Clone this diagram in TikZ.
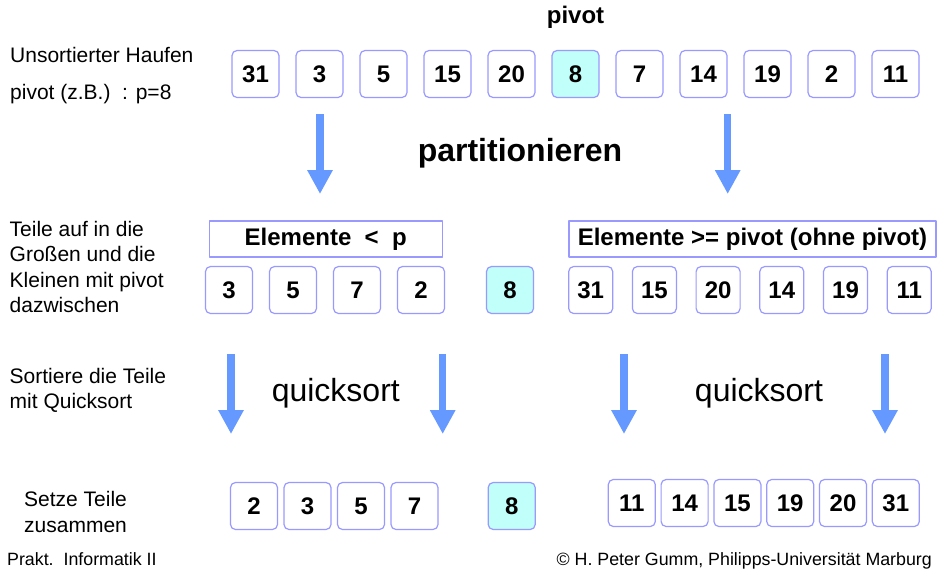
\documentclass[tikz,border=0pt]{standalone}
\usepackage{fontspec}
\setmainfont{Liberation Sans}
\usetikzlibrary{arrows.meta}
\definecolor{boxblue}{RGB}{153,153,255}
\definecolor{pivotcyan}{RGB}{192,255,250}
\definecolor{arrowblue}{RGB}{102,153,255}
\tikzset{
	zahl/.style={draw=boxblue, fill=white, line width=1.2pt, rounded corners=5pt, minimum width=47pt, minimum height=47pt, inner sep=0pt, font=\fontsize{24}{28}\selectfont\bfseries},
	teil/.style={draw=boxblue, line width=1.2pt, minimum height=36pt, inner sep=0pt, font=\fontsize{24}{28}\selectfont\bfseries},
	blockpfeil/.style={arrowblue, line width=7.5pt, -{Triangle[width=24pt,length=24pt]}},
	erkl/.style={inner sep=0pt, align=left, font=\fontsize{21}{25.5}\selectfont},
	fuss/.style={inner sep=0pt, font=\fontsize{17.8}{20}\selectfont}
}
\begin{document}
\begin{tikzpicture}[x=1pt,y=-1pt, line join=round]
	\def\ytop{74} \def\ymid{290} \def\yteil{239}
	\def\pa{114} \def\pb{194} \def\qa{354} \def\qb{434}
	\useasboundingbox (0,0) rectangle (939,571);
	% unsortierter Haufen
	\node[erkl, anchor=base west] (lab1) at (10,62.7) {Unsortierter Haufen};
	\node[erkl, anchor=base west] (lab2) at (10,99) {pivot (z.B.)\ \ : p=8};
	\node[font=\fontsize{24}{28}\selectfont\bfseries] (pivtxt) at (575.5,17) {pivot};
	\foreach \v/\f [count=\i] in {31/white,3/white,5/white,15/white,20/white,8/pivotcyan,7/white,14/white,19/white,2/white,11/white}
		\node[zahl, fill=\f] (t\i) at ({191.5+64*\i},\ytop) {\v};
	% partitionieren
	\coordinate (p1a) at (320,\pa); \coordinate (p1b) at (320,\pb);
	\coordinate (p2a) at (727.7,\pa); \coordinate (p2b) at (727.7,\pb);
	\draw[blockpfeil] (p1a)--(p1b);
	\draw[blockpfeil] (p2a)--(p2b);
	\node[font=\fontsize{32}{36}\selectfont\bfseries] (part) at (520,153) {partitionieren};
	% Teile
	\node[erkl, anchor=north west] (lab3) at (9.5,220.7) {Teile auf in die\\Großen und die\\Kleinen mit pivot\\dazwischen};
	\node[teil, minimum width=233pt] (kleine) at (325.7,\yteil) {Elemente\ \ <\ \ p};
	\node[teil, minimum width=367pt] (grosse) at (752.5,\yteil) {Elemente >= pivot (ohne pivot)};
	\foreach \v [count=\i] in {3,5,7,2}
		\node[zahl] (ml\i) at ({165+64*\i},\ymid) {\v};
	\node[zahl, fill=pivotcyan] (mp) at (510,\ymid) {8};
	\foreach \v [count=\i] in {31,15,20,14,19,11}
		\node[zahl, minimum width=44pt] (mr\i) at ({527+63.7*\i},\ymid) {\v};
	% quicksort
	\node[erkl, anchor=north west] (lab4) at (9.5,368) {Sortiere die Teile\\mit Quicksort};
	\foreach \x [count=\i] in {231,442.7,624,885} {
		\coordinate (q\i a) at (\x,\qa); \coordinate (q\i b) at (\x,\qb);
		\draw[blockpfeil] (q\i a)--(q\i b);
	}
	\node[font=\fontsize{32}{36}\selectfont] (qs1) at (335.8,393.5) {quicksort};
	\node[font=\fontsize{32}{36}\selectfont] (qs2) at (759,393.5) {quicksort};
	% zusammensetzen
	\node[erkl, anchor=north west] (lab5) at (24,491.4) {Setze Teile\\zusammen};
	\foreach \v [count=\i] in {2,3,5,7}
		\node[zahl] (bl\i) at ({200.5+53.5*\i},506) {\v};
	\node[zahl, fill=pivotcyan] (bp) at (511.7,506) {8};
	\foreach \v [count=\i] in {11,14,15,19,20,31}
		\node[zahl] (br\i) at ({579+52.8*\i},503) {\v};
	% Fusszeile
	\node[fuss, anchor=base west] (f1) at (7,565.5) {Prakt.\ \ Informatik II};
	\node[fuss, anchor=base east] (f2) at (932,565.5) {© H. Peter Gumm, Philipps-Universität Marburg};
\end{tikzpicture}
\end{document}
